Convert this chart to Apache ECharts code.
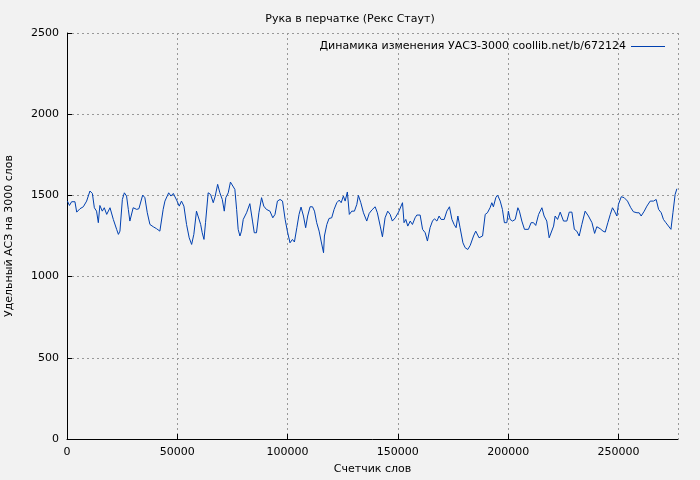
<!DOCTYPE html>
<html>
<head>
<meta charset="utf-8">
<script src="https://cdn.jsdelivr.net/npm/echarts@6/dist/echarts.min.js"></script>
<style>html,body{margin:0;padding:0;background:#f2f2f2}#chart{width:700px;height:480px}</style>
</head>
<body>
<div id="chart"></div>
<script>
// позиции по счетчику слов
const words = [
  200, 1100, 2100, 3600, 4400, 5900, 7400, 8900, 10400, 11500, 12400, 13400, 14200, 14900, 16000, 16900, 18000, 19500,
  21000, 22500, 23300, 24000, 25100, 26000, 27000, 27800, 28500, 29300, 30000, 31600, 32600, 34300, 35300, 36400,
  37600, 39100, 40600, 42100, 43600, 44400, 45100, 46100, 47100, 48200, 49700, 50900, 51900, 53000, 54200, 55400,
  56500, 57500, 58700, 59500, 60600, 61300, 62100, 62800, 64000, 65100, 66300, 67200, 68300, 69300, 70400, 71300,
  72000, 73100, 74100, 75000, 76100, 76900, 77600, 78400, 79100, 79900, 81400, 82900, 84100, 84900, 85900, 87000,
  88200, 89200, 90400, 92000, 93300, 94300, 95400, 96600, 97700, 98900, 99900, 101100, 102200, 103100, 104200,
  105200, 106100, 107200, 108200, 109100, 110200, 111300, 112200, 113200, 114300, 115200, 116300, 116700, 117800,
  118800, 120000, 121100, 122300, 123400, 124300, 125300, 126100, 127100, 128000, 129100, 130300, 131400, 132100,
  133200, 134400, 135900, 137000, 138200, 139700, 140700, 142000, 143000, 144200, 145400, 146500, 147500, 148800,
  150300, 151000, 152100, 152800, 153600, 154500, 155600, 156600, 157800, 158600, 160100, 161200, 162400, 163400,
  164600, 165700, 166600, 167700, 168700, 169600, 171000, 172200, 173400, 174500, 175500, 176400, 177200, 178200,
  179500, 180500, 181700, 182800, 184300, 185300, 186800, 188400, 189600, 190600, 191800, 192600, 193300, 194400,
  195200, 196400, 197400, 198300, 199400, 200100, 200900, 202000, 203200, 204400, 205100, 206200, 207400, 209200,
  210400, 211500, 212500, 213800, 215300, 216300, 217500, 218600, 219500, 220600, 221300, 222400, 223600, 225100,
  226600, 227700, 228900, 230000, 231100, 232200, 233400, 234900, 236400, 238000, 239200, 240200, 241700, 243000,
  244000, 245200, 246300, 247300, 248200, 249300, 250000, 251300, 252600, 254100, 255600, 256800, 258400, 259400,
  260300, 261700, 262900, 264400, 265900, 267100, 268200, 269400, 270400, 271500, 272400, 273800, 274700, 275700, 276500
];
// УАСЗ-3000
const values = [
  1465, 1438, 1461, 1461, 1397, 1418, 1430, 1465, 1527, 1512, 1424, 1403, 1332, 1438, 1403, 1424, 1383, 1424,
  1352, 1291, 1260, 1280, 1475, 1516, 1496, 1414, 1342, 1352, 1424, 1414, 1418, 1502, 1486, 1393,
  1321, 1307, 1295, 1280, 1414, 1465, 1455, 1516, 1496, 1512, 1471, 1434, 1465, 1434, 1321, 1239,
  1198, 1260, 1403, 1414, 1321, 1270, 1229, 1332, 1516, 1506, 1455, 1496, 1568, 1516, 1475, 1403,
  1486, 1516, 1582, 1578, 1537, 1414, 1291, 1250, 1280, 1352, 1393, 1449, 1342, 1270, 1270, 1393,
  1486, 1434, 1414, 1403, 1362, 1383, 1465, 1475, 1465, 1352, 1280, 1208, 1229, 1213, 1301,
  1383, 1428, 1373, 1301, 1373, 1430, 1430, 1403, 1332, 1280, 1219, 1147, 1250, 1321,
  1358, 1362, 1414, 1455, 1471, 1455, 1496, 1465, 1521, 1383, 1403, 1403, 1445, 1500,
  1455, 1393, 1342, 1389, 1410, 1430, 1393, 1311, 1245, 1362, 1403, 1383, 1342, 1362,
  1397, 1393, 1455, 1332, 1352, 1311, 1342, 1321, 1362, 1379, 1379, 1291, 1270, 1219,
  1301, 1342, 1356, 1342, 1373, 1352, 1352, 1403, 1430, 1352, 1321, 1301, 1373, 1301,
  1208, 1178, 1167, 1192, 1250, 1280, 1239, 1250, 1383, 1393, 1424, 1455, 1430, 1486,
  1502, 1465, 1414, 1332, 1332, 1403, 1352, 1342, 1352, 1424, 1403, 1342, 1291, 1291,
  1332, 1332, 1315, 1383, 1424, 1373, 1342, 1239, 1239, 1311, 1373, 1352, 1397, 1342,
  1342, 1397, 1397, 1291, 1280, 1250, 1321, 1403, 1373, 1332, 1266, 1307, 1295, 1280,
  1274, 1332, 1383, 1424, 1403, 1373, 1445, 1492, 1486, 1465, 1424, 1399, 1393, 1393,
  1373, 1403, 1434, 1465, 1465, 1475, 1414, 1393, 1352, 1332, 1321, 1291, 1393, 1506, 1541
];
const seriesName = 'Динамика изменения УАСЗ-3000 coollib.net/b/672124';

const chart = echarts.init(document.getElementById('chart'));
const font = 'DejaVu Sans';
chart.setOption({
  backgroundColor: '#f2f2f2',
  animation: false,
  textStyle: { fontFamily: font },
  title: {
    text: 'Рука в перчатке (Рекс Стаут)',
    left: 'center', top: 9,
    textStyle: { fontSize: 11, fontWeight: 'normal', color: '#000', fontFamily: font }
  },
  legend: {
    right: 30, top: 36, icon: 'path://M0,0H40V1H0Z', itemWidth: 34, itemHeight: 1, align: 'right', itemGap: 2,
    textStyle: { fontSize: 11, color: '#000', fontFamily: font, padding: [0, 0, 0, 0] },
    data: [seriesName]
  },
  grid: { left: 67, right: 22, top: 33, bottom: 41, containLabel: false, outerBoundsMode: 'none' },
  xAxis: {
    type: 'value', min: 0, max: 277000, interval: 50000,
    name: 'Счетчик слов', nameLocation: 'middle', nameGap: 25,
    nameTextStyle: { fontSize: 11, color: '#000' },
    axisLine: { lineStyle: { color: '#000' } },
    axisTick: { inside: true, lineStyle: { color: '#000' } },
    axisLabel: { fontSize: 11, color: '#000', showMaxLabel: false, formatter: v => String(v) },
    splitLine: { lineStyle: { color: '#999', type: [2, 3] } }
  },
  yAxis: {
    type: 'value', min: 0, max: 2500, interval: 500,
    name: 'Удельный АСЗ на 3000 слов', nameLocation: 'middle', nameGap: 52,
    nameTextStyle: { fontSize: 11, color: '#000' },
    axisLine: { show: true, lineStyle: { color: '#000' } },
    axisTick: { show: true, inside: true, lineStyle: { color: '#000' } },
    axisLabel: { fontSize: 11, color: '#000', formatter: v => String(v) },
    splitLine: { lineStyle: { color: '#999', type: [2, 3] } }
  },
  series: [{
    name: seriesName, type: 'line', showSymbol: false,
    lineStyle: { color: '#0040b0', width: 1 }, itemStyle: { color: '#0040b0' },
    data: words.map((w, i) => [w, values[i]])
  }]
});
</script>
</body>
</html>
